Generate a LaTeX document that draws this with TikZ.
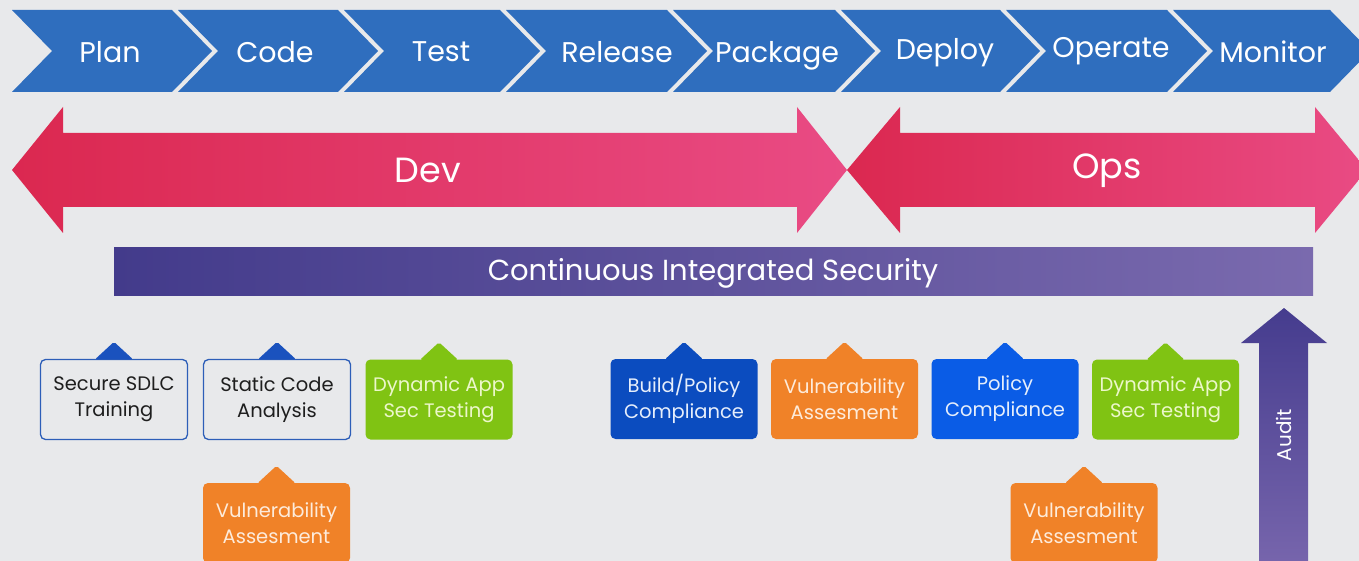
\documentclass[tikz,border=0pt]{standalone}
\usepackage{fontspec}
\setmainfont{Poppins}
\usetikzlibrary{calc}
\definecolor{bgc}{HTML}{E8E9EB}
\definecolor{chevblue}{HTML}{2F6EBE}
\definecolor{devleft}{HTML}{DB2850}
\definecolor{devright}{HTML}{E94B84}
\definecolor{secleft}{HTML}{433B8B}
\definecolor{secright}{HTML}{7A6AAE}
\definecolor{outlineblue}{HTML}{2D5EB8}
\definecolor{tabblue}{HTML}{1A52BE}
\definecolor{darkblue}{HTML}{0B4CBF}
\definecolor{brightblue}{HTML}{0A5CE6}
\definecolor{leafgreen}{HTML}{80C313}
\definecolor{tangerine}{HTML}{F08228}
\definecolor{audittop}{HTML}{453C8E}
\definecolor{auditbottom}{HTML}{7866AD}
\definecolor{inktext}{HTML}{1E1E1E}
\definecolor{greentext}{HTML}{ECF7CB}
\definecolor{orangetext}{HTML}{FDEBDB}
\definecolor{bluetext}{HTML}{E6EEFB}
\tikzset{
  chev/.style={fill=chevblue},
  chevtext/.style={text=white, font=\fontsize{28.5}{30}\selectfont, anchor=base, inner sep=0pt},
  bigtext/.style={text=white, font=\fontsize{35}{40}\selectfont, anchor=base, inner sep=0pt},
  sectext/.style={text=white, font=\fontsize{29}{32}\selectfont, anchor=base, inner sep=0pt},
  card/.style={rectangle, rounded corners=5pt, minimum width=147pt, minimum height=80pt,
    align=center, inner sep=0pt, font=\fontsize{19.5}{26}\selectfont},
  outlinecard/.style={card, draw=outlineblue, line width=1.3pt, fill=bgc, text=inktext},
  greencard/.style={card, fill=leafgreen, text=greentext},
  orangecard/.style={card, fill=tangerine, text=orangetext},
  darkbluecard/.style={card, fill=darkblue, text=bluetext},
  brightbluecard/.style={card, fill=brightblue, text=bluetext},
  tab/.style={rounded corners=2pt},
}
\newcommand{\cardtab}[2]{%
  \fill[tab, #2] ($(#1.north)+(-19,0.5)$) -- ($(#1.north)+(0,-17)$) -- ($(#1.north)+(19,0.5)$) -- cycle;}
\begin{document}
\begin{tikzpicture}[x=1pt,y=-1pt]
\fill[bgc] (0,0) rectangle (1359,561);
\useasboundingbox (0,0) rectangle (1359,561);
\clip (0,0) rectangle (1359,561);

% process chevrons
\foreach \l/\r/\n/\t/\tx/\ty in {12/172/plan/Plan/110/63, 178/338/code/Code/275/63,
    344/500/test/Test/441/62, 506/667/release/Release/617/63, 673/835/package/Package/777/63,
    841/1000/deploy/Deploy/945/60, 1006/1167/operate/Operate/1111/58, 1173/1330/monitor/Monitor/1273/63}{
  \fill[chev] (\l,10) -- (\r,10) -- (\r+40,51) -- (\r,92) -- (\l,92) -- (\l+40,51) -- cycle;
  \node[chevtext] (\n) at (\tx,\ty) {\t};
}

% Dev and Ops double arrows
\shade[left color=devleft, right color=devright]
  (12,170) -- (63,107) -- (63,133) -- (797,133) -- (797,107) -- (847,170)
  -- (797,233) -- (797,207) -- (63,207) -- (63,233) -- cycle;
\shade[left color=devleft, right color=devright]
  (847,170) -- (900,107) -- (900,133) -- (1315,133) -- (1315,107) -- (1367,170)
  -- (1315,233) -- (1315,207) -- (900,207) -- (900,233) -- cycle;
\node[bigtext] (dev) at (428,183) {Dev};
\node[bigtext] (ops) at (1107,179) {Ops};

% security bar
\shade[left color=secleft, right color=secright] (114,248) rectangle (1313,295);
\node[sectext] (sec) at (713,280) {Continuous Integrated Security};

% audit arrow
\shade[top color=audittop, bottom color=auditbottom]
  (1259,570) -- (1259,343) -- (1241,343) -- (1284,308) -- (1327,343) -- (1308,343) -- (1308,570) -- cycle;
\node[text=white, rotate=90, font=\fontsize{20}{22}\selectfont] (audit) at (1284,435) {Audit};

% security activity cards
\node[outlinecard] (ssdlc) at (114,399.5) {Secure SDLC\\Training};
\node[outlinecard] (sca) at (277,399.5) {Static Code\\Analysis};
\node[greencard] (dast1) at (439,399.5) {Dynamic App\\Sec Testing};
\node[orangecard] (vuln1) at (276.5,523) {Vulnerability\\Assesment};
\node[darkbluecard] (build) at (684,399) {Build/Policy\\Compliance};
\node[orangecard] (vuln2) at (844.5,399) {Vulnerability\\Assesment};
\node[brightbluecard] (policy) at (1005,399) {Policy\\Compliance};
\node[greencard] (dast2) at (1165.5,399.5) {Dynamic App\\Sec Testing};
\node[orangecard] (vuln3) at (1084,523) {Vulnerability\\Assesment};

\cardtab{ssdlc}{tabblue}
\cardtab{sca}{tabblue}
\cardtab{dast1}{leafgreen}
\cardtab{vuln1}{tangerine}
\cardtab{build}{darkblue}
\cardtab{vuln2}{tangerine}
\cardtab{policy}{brightblue}
\cardtab{dast2}{leafgreen}
\cardtab{vuln3}{tangerine}
\end{tikzpicture}
\end{document}
